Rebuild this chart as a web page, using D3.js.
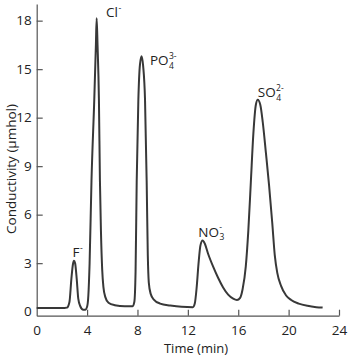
<!DOCTYPE html>
<html>
<head>
<meta charset="utf-8">
<script src="https://cdn.jsdelivr.net/npm/d3@7/dist/d3.min.js"></script>
<style>
  html, body { margin: 0; padding: 0; background: #fff; }
  svg { display: block; }
  text { font-family: "Open Sans", "DejaVu Sans", sans-serif; fill: #222; }
</style>
</head>
<body>
<svg id="chart" width="350" height="356"></svg>
<script>
// ---- data ----
const timeMin = [
  0, 1, 2, 2.4, 2.6, 2.75, 2.88, 2.96, 3.05, 3.18, 3.3, 3.45, 3.7, 3.85,
  4.0, 4.1, 4.2, 4.35, 4.57, 4.7, 4.76, 4.83, 4.94, 5.02, 5.1, 5.2, 5.3, 5.45, 5.7, 6.2, 7.0, 7.6,
  7.75, 7.85, 7.94, 8.07, 8.2, 8.33, 8.45, 8.6, 8.73, 8.82, 8.9, 9.05, 9.3, 9.8, 10.6, 11.5, 12.4,
  12.55, 12.7, 12.85, 13.0, 13.17, 13.35, 13.6, 14.0, 14.4, 14.8, 15.2, 15.6, 15.9,
  16.15, 16.35, 16.6, 16.8, 17.0, 17.2, 17.4, 17.55, 17.75, 17.95, 18.2, 18.45, 18.7, 18.9,
  19.1, 19.4, 19.8, 20.2, 20.8, 21.5, 22.2, 22.7
];
const conductivity = [
  0.22, 0.22, 0.22, 0.25, 0.6, 2.0, 2.95, 3.15, 3.0, 2.0, 0.8, 0.35, 0.12, 0.12,
  0.3, 1.0, 3.0, 8.1, 13.1, 16.5, 18.15, 16.5, 13.1, 8.1, 5.0, 2.6, 1.5, 0.9, 0.55, 0.4, 0.33, 0.33,
  0.6, 2.5, 8.1, 13.1, 15.3, 15.8, 15.2, 13.1, 8.1, 3.5, 1.8, 1.1, 0.75, 0.5, 0.38, 0.3, 0.28,
  0.5, 1.5, 3.0, 4.1, 4.4, 4.2, 3.6, 2.8, 2.1, 1.5, 1.05, 0.8, 0.72,
  0.85, 1.4, 2.8, 5.0, 8.0, 11.0, 12.8, 13.1, 12.8, 11.7, 9.8, 7.8, 5.5, 3.5,
  2.4, 1.6, 1.0, 0.72, 0.5, 0.36, 0.28, 0.25
];
const xTicks = [0, 4, 8, 12, 16, 20, 24];
const yTicks = [0, 3, 6, 9, 12, 15, 18];
// peak labels: main text, subscript, superscript, peak time, peak value
const ionNames = ["F", "Cl", "PO", "NO", "SO"];
const ionSubs = ["", "", "4", "3", "4"];
const ionSups = ["-", "-", "3-", "-", "2-"];
const ionPeakTime = [2.96, 4.76, 8.33, 13.17, 17.55];
const ionPeakValue = [3.15, 18.15, 15.8, 4.4, 13.1];
const xTitle = "Time (min)";
const yTitle = "Conductivity (μmhol)";

// ---- layout ----
const svg = d3.select("#chart");
const x = d3.scaleLinear().domain([0, 24]).range([36.7, 339]);
const y = d3.scaleLinear().domain([-0.25, 19.03]).range([315.7, 4]);
const axisColor = "#555";

// x axis
const gx = svg.append("g").attr("transform", `translate(0,${y(-0.25)})`)
  .call(d3.axisBottom(x).tickValues(xTicks).tickSizeInner(-6).tickSizeOuter(0).tickPadding(10));
// y axis
const gy = svg.append("g").attr("transform", `translate(${x(0)},0)`)
  .call(d3.axisLeft(y).tickValues(yTicks).tickSizeInner(-6).tickSizeOuter(0).tickPadding(5));

[gx, gy].forEach(g => {
  g.select(".domain").attr("stroke", axisColor).attr("stroke-width", 1.2);
  g.selectAll(".tick line").attr("stroke", axisColor).attr("stroke-width", 1.2);
  g.selectAll(".tick text").attr("font-size", 13.5)
    .attr("font-family", '"Open Sans", sans-serif').attr("fill", "#222");
});
gy.selectAll(".tick").filter(d => d === 0).select("line").remove();
gx.selectAll(".tick").filter(d => d === 0).select("line").remove();

// axis titles
svg.append("text").attr("x", 196).attr("y", 353).attr("text-anchor", "middle")
  .attr("font-size", 13).text(xTitle);
svg.append("text").attr("transform", "translate(16,169) rotate(-90)")
  .attr("text-anchor", "middle").attr("font-size", 13.5).text(yTitle);

// chromatogram trace
const pts = timeMin.map((t, i) => [t, conductivity[i]]);
const line = d3.line().x(d => x(d[0])).y(d => y(d[1])).curve(d3.curveMonotoneX);
svg.append("path").datum(pts).attr("d", line)
  .attr("fill", "none").attr("stroke", "#383838").attr("stroke-width", 2)
  .attr("stroke-linejoin", "round");

// peak labels (offsets in pixels from peak apex)
const labelOffsets = [[-1.5, -3.5], [9.3, -1], [8.3, 9], [-4.3, -4], [0, -2.6]];
ionNames.forEach((name, i) => {
  const px = x(ionPeakTime[i]) + labelOffsets[i][0];
  const py = y(ionPeakValue[i]) + labelOffsets[i][1];
  const t = svg.append("text").attr("x", px).attr("y", py).attr("font-size", 13.5);
  t.append("tspan").text(name);
  if (ionSubs[i]) {
    t.append("tspan").attr("font-size", 8.5).attr("dx", 0.5).attr("dy", 3.5).text(ionSubs[i]);
    t.append("tspan").attr("font-size", 8.5).attr("dx", -5).attr("dy", -10).text(ionSups[i]);
  } else {
    t.append("tspan").attr("font-size", 8.5).attr("dx", 0.5).attr("dy", -6.5).text(ionSups[i]);
  }
});
</script>
</body>
</html>
